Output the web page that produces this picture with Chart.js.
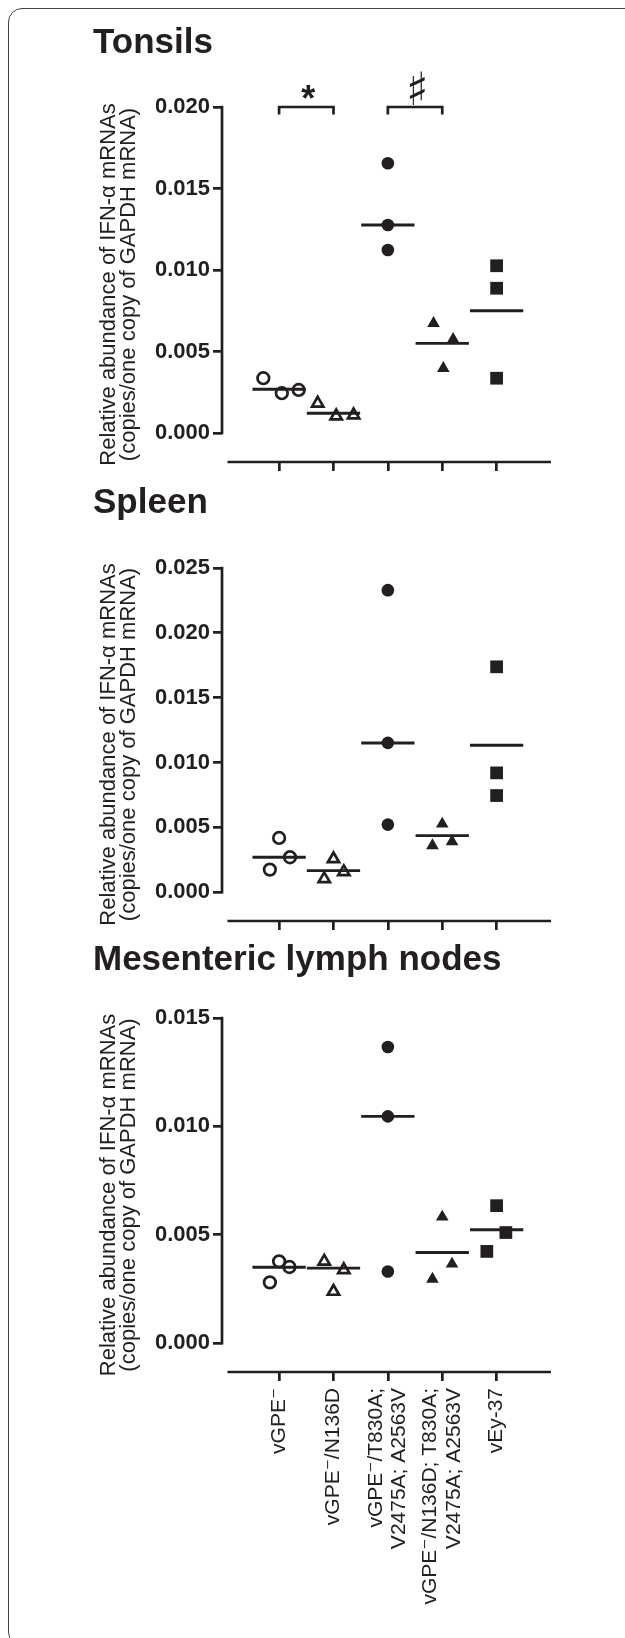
<!DOCTYPE html>
<html>
<head>
<meta charset="utf-8">
<script src="https://cdn.jsdelivr.net/npm/chart.js@4.4.1/dist/chart.umd.min.js"></script>
<style>
  html, body { margin: 0; padding: 0; background: #ffffff; }
  #wrap { position: relative; width: 625px; height: 1638px; overflow: hidden; background: #fff; }
  #frame { position: absolute; left: 8px; top: 8px; width: 700px; height: 1638px;
           border: 1.6px solid #444; border-radius: 14px; box-sizing: border-box; }
  canvas { position: absolute; left: 0; }
</style>
</head>
<body>
<div id="wrap">
  <div id="frame"></div>
  <canvas id="c1"></canvas>
  <canvas id="c2"></canvas>
  <canvas id="c3"></canvas>
</div>
<script>
// ---------------- data ----------------
const categories = [
  'vGPE⁻',
  'vGPE⁻/N136D',
  ['vGPE⁻/T830A;', 'V2475A; A2563V'],
  ['vGPE⁻/N136D; T830A;', 'V2475A; A2563V'],
  'vEy-37'
];
const yAxisTitle = ['Relative abundance of IFN-α mRNAs', '(copies/one copy of GAPDH mRNA)'];

const tonsilsTitle = 'Tonsils';
const tonsilsValues = [
  [0.00336, 0.00244, 0.00264],
  [0.00182, 0.00104, 0.00110],
  [0.01655, 0.01276, 0.01123],
  [0.00673, 0.00575, 0.00397],
  [0.01026, 0.00888, 0.00336]
];
const tonsilsJitter = [
  [-0.29, 0.05, 0.36],
  [-0.29, 0.05, 0.37],
  [0, 0, 0],
  [-0.16, 0.20, 0.02],
  [0, 0, 0]
];
const tonsilsLines = [0.00268, 0.00121, 0.01276, 0.00550, 0.00750];
const tonsilsTicks = [0, 0.005, 0.010, 0.015, 0.020];
const tonsilsBrackets = [
  { from: 0, to: 1, y: 0.020, label: '*' },
  { from: 2, to: 3, y: 0.020, label: '♯' }
];

const spleenTitle = 'Spleen';
const spleenValues = [
  [0.00418, 0.00174, 0.00269],
  [0.00256, 0.00102, 0.00156],
  [0.02329, 0.01151, 0.00521],
  [0.00526, 0.00359, 0.00390],
  [0.01738, 0.00920, 0.00745]
];
const spleenJitter = [
  [0, -0.17, 0.20],
  [0, -0.17, 0.19],
  [0, 0, 0],
  [0, -0.18, 0.18],
  [0, 0, 0]
];
const spleenLines = [0.00269, 0.00166, 0.01150, 0.00436, 0.01133];
const spleenTicks = [0, 0.005, 0.010, 0.015, 0.020, 0.025];

const mlnTitle = 'Mesenteric lymph nodes';
const mlnValues = [
  [0.00377, 0.00351, 0.00280],
  [0.00377, 0.00338, 0.00238],
  [0.01366, 0.01046, 0.00330],
  [0.00582, 0.00365, 0.00295],
  [0.00634, 0.00510, 0.00423]
];
const mlnJitter = [
  [0, 0.19, -0.17],
  [-0.17, 0.19, 0],
  [0, 0, 0],
  [0, 0.18, -0.18],
  [0, 0.17, -0.18]
];
const mlnLines = [0.00350, 0.00346, 0.01046, 0.00418, 0.00523];
const mlnTicks = [0, 0.005, 0.010, 0.015];

// ---------------- styles ----------------
const INK = '#231f20';
const FONT = '"Liberation Sans", Arial, Helvetica, "DejaVu Sans", sans-serif';
Chart.defaults.font.family = FONT;
Chart.defaults.color = INK;

const markerStyles = [
  { pointStyle: 'circle',   radius: 5.8, fill: 'rgba(0,0,0,0)', border: 2.7 },
  { pointStyle: 'triangle', radius: 6.5, fill: 'rgba(0,0,0,0)', border: 2.7 },
  { pointStyle: 'circle',   radius: 6.3, fill: INK, border: 0 },
  { pointStyle: 'triangle', radius: 7.3, fill: INK, border: 0 },
  { pointStyle: 'rect',     radius: 9.0, fill: INK, border: 0 }
];
const MEAN_HALF = 0.49;
const AXIS_W = 2.7;
const X_MIN = -1.05, X_MAX = 5, X_AXIS_START = -0.95;

// Prism-style detached axes: y line from 0 to top tick, x line starting right of the y axis
const axisLinesPlugin = {
  id: 'axisLines',
  afterDraw(chart, args, opts) {
    const ys = chart.scales.y, xs = chart.scales.x;
    const ctx = chart.ctx, area = chart.chartArea;
    ctx.save();
    ctx.strokeStyle = INK;
    ctx.lineWidth = AXIS_W;
    ctx.lineCap = 'square';
    ctx.beginPath();
    ctx.moveTo(area.left, ys.getPixelForValue(opts.from));
    ctx.lineTo(area.left, ys.getPixelForValue(opts.to));
    ctx.stroke();
    ctx.lineCap = 'butt';
    ctx.beginPath();
    ctx.moveTo(xs.getPixelForValue(X_AXIS_START), area.bottom);
    ctx.lineTo(xs.getPixelForValue(X_MAX), area.bottom);
    ctx.stroke();
    ctx.restore();
  }
};

// significance brackets
const bracketPlugin = {
  id: 'brackets',
  afterDraw(chart, args, opts) {
    const list = opts.items || [];
    if (!list.length) return;
    const xs = chart.scales.x, ys = chart.scales.y, ctx = chart.ctx;
    ctx.save();
    ctx.strokeStyle = INK;
    ctx.fillStyle = INK;
    ctx.lineWidth = AXIS_W;
    list.forEach(b => {
      const x1 = xs.getPixelForValue(b.from);
      const x2 = xs.getPixelForValue(b.to);
      const yt = ys.getPixelForValue(b.y);
      ctx.beginPath();
      ctx.moveTo(x1, yt + 7.5);
      ctx.lineTo(x1, yt);
      ctx.lineTo(x2, yt);
      ctx.lineTo(x2, yt + 7.5);
      ctx.stroke();
      const isStar = b.label === '*';
      ctx.font = isStar ? ('bold 36px ' + FONT) : ('46px "DejaVu Sans", sans-serif');
      ctx.textAlign = 'center';
      ctx.textBaseline = 'alphabetic';
      const m = ctx.measureText(b.label);
      const cy = yt - (isStar ? 15 : 19);
      const base = cy + (m.actualBoundingBoxAscent - m.actualBoundingBoxDescent) / 2;
      ctx.fillText(b.label, (x1 + x2) / 2 + 2, base);
    });
    ctx.restore();
  }
};

// centre multi-line rotated x labels on their tick
const labelCenterPlugin = {
  id: 'labelCenter',
  afterLayout(chart) {
    const xs = chart.scales.x;
    if (!xs.options.ticks.display) return;
    xs.getLabelItems().forEach(it => {
      const n = Array.isArray(it.label) ? it.label.length : 1;
      if (n > 1) it.options.translation[0] -= (n - 1) * it.font.lineHeight / 2;
    });
  }
};

function makeChart(id, cfg) {
  const canvas = document.getElementById(id);
  canvas.style.top = cfg.top + 'px';
  canvas.width = 625; canvas.height = cfg.height;
  canvas.style.width = '625px'; canvas.style.height = cfg.height + 'px';
  const yMax = cfg.ticks[cfg.ticks.length - 1];

  const datasets = [];
  cfg.lines.forEach((m, g) => {
    datasets.push({
      type: 'line',
      data: [{ x: g - MEAN_HALF, y: m }, { x: g + MEAN_HALF, y: m }],
      borderColor: INK, borderWidth: 2.9, pointRadius: 0, showLine: true,
      fill: false, order: 0, clip: false
    });
  });
  cfg.values.forEach((vals, g) => {
    const s = markerStyles[g];
    datasets.push({
      type: 'scatter',
      data: vals.map((v, k) => ({ x: g + cfg.jitter[g][k], y: v })),
      pointStyle: s.pointStyle, pointRadius: s.radius,
      pointBackgroundColor: s.fill, pointBorderColor: INK, pointBorderWidth: s.border,
      showLine: false, order: 1, clip: false
    });
  });

  return new Chart(canvas, {
    type: 'scatter',
    data: { datasets },
    options: {
      responsive: false, animation: false, events: [],
      layout: { padding: { left: 93, right: 74, top: 0, bottom: 0 } },
      plugins: {
        legend: { display: false },
        tooltip: { enabled: false },
        title: {
          display: true, text: cfg.title, align: 'start', color: INK,
          font: { size: 35, weight: 'bold', lineHeight: 1.2 },
          padding: { top: cfg.titleTop, bottom: cfg.titleBottom }
        },
        axisLines: { from: 0, to: yMax },
        brackets: { items: cfg.brackets || [] }
      },
      scales: {
        x: {
          type: 'linear', min: X_MIN, max: X_MAX,
          afterBuildTicks: s => { s.ticks = categories.map((c, i) => ({ value: i })); },
          afterFit: s => { s.height = cfg.xHeight; },
          grid: { display: true, drawOnChartArea: false, drawTicks: true, tickLength: 9,
                  color: INK, lineWidth: AXIS_W },
          border: { display: false },
          ticks: {
            display: cfg.showLabels, autoSkip: false, minRotation: 90, maxRotation: 90,
            padding: 7, color: INK, font: { size: 21, lineHeight: 1.1 },
            callback: v => categories[v]
          }
        },
        y: {
          type: 'linear', min: -0.089 * yMax, max: yMax, bounds: 'data',
          afterBuildTicks: s => { s.ticks = cfg.ticks.map(v => ({ value: v })); },
          afterFit: s => { s.width = 129; },
          grid: { display: true, drawOnChartArea: false, drawTicks: true, tickLength: 9,
                  color: INK, lineWidth: AXIS_W },
          border: { display: false },
          ticks: { padding: 3, color: INK, font: { size: 22, weight: 'bold' },
                   callback: v => Number(v).toFixed(3) },
          title: { display: true, text: yAxisTitle, color: INK,
                   font: { size: 22, lineHeight: 0.9 }, padding: { top: 6, bottom: 0 } }
        }
      }
    },
    plugins: [axisLinesPlugin, bracketPlugin, labelCenterPlugin]
  });
}

makeChart('c1', { top: 0, height: 480, titleTop: 22, titleBottom: 43, xHeight: 18,
  title: tonsilsTitle, values: tonsilsValues, jitter: tonsilsJitter, lines: tonsilsLines,
  ticks: tonsilsTicks, brackets: tonsilsBrackets, showLabels: false });
makeChart('c2', { top: 460, height: 479, titleTop: 22, titleBottom: 44, xHeight: 18,
  title: spleenTitle, values: spleenValues, jitter: spleenJitter, lines: spleenLines,
  ticks: spleenTicks, showLabels: false });
makeChart('c3', { top: 917, height: 721, titleTop: 22, titleBottom: 37, xHeight: 266,
  title: mlnTitle, values: mlnValues, jitter: mlnJitter, lines: mlnLines,
  ticks: mlnTicks, showLabels: true });
</script>
</body>
</html>
